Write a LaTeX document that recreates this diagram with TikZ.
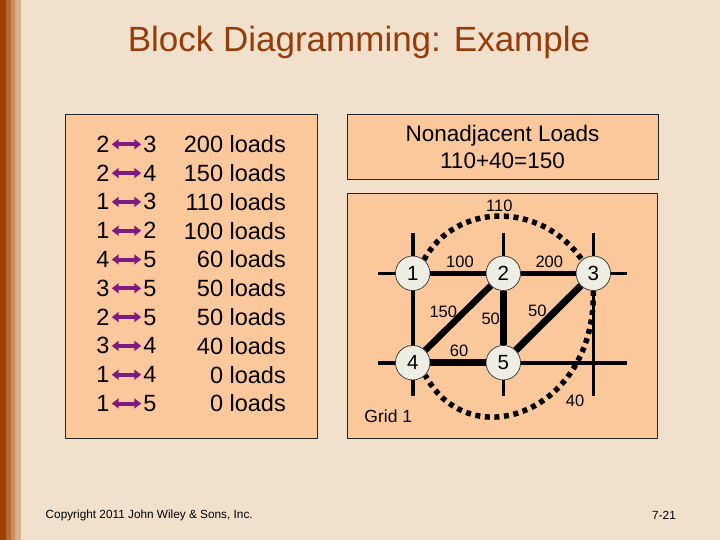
\documentclass[tikz,border=0pt]{standalone}
\usepackage{fontspec}
\setmainfont{Liberation Sans}
\usetikzlibrary{arrows.meta}
\definecolor{bg}{HTML}{F0E0CC}
\definecolor{peach}{HTML}{FAC89B}
\definecolor{titlebrown}{HTML}{963C0A}
\definecolor{stripeA}{HTML}{9E4108}
\definecolor{stripeB}{HTML}{B56A36}
\definecolor{stripeC}{HTML}{C98E62}
\definecolor{stripeD}{HTML}{D9AE8C}
\definecolor{arrowpurple}{HTML}{7F1A7F}
\definecolor{nodefill}{HTML}{EEEEE4}
\pgfdeclarelayer{background}
\pgfdeclarelayer{edges}
\pgfsetlayers{background,edges,main}
\begin{document}
\begin{tikzpicture}[x=1pt,y=-1pt,
  panel/.style={draw=black!85,line width=0.9pt,fill=peach},
  listtxt/.style={inner sep=0pt,font=\fontsize{23.5}{28}\selectfont},
  pairarrow/.style={arrowpurple,line width=4pt,{Triangle[length=7pt,width=10pt]}-{Triangle[length=7pt,width=10pt]},shorten <=2pt,shorten >=2pt},
  gridline/.style={line width=3.6pt,black},
  heavy/.style={line width=6.5pt,black},
  dotpath/.style={line width=5.5pt,black,dash pattern=on 5pt off 4.6pt},
  dept/.style={circle,draw=black!80,line width=0.7pt,fill=nodefill,minimum size=34.5pt,inner sep=0pt,font=\fontsize{20.5}{22}\selectfont},
  edgelbl/.style={inner sep=0pt,font=\fontsize{16.5}{18}\selectfont}]
% page
\begin{pgfonlayer}{background}
\fill[bg] (0,0) rectangle (720,540);
\fill[stripeA] (0,0) rectangle (6,540);
\fill[stripeB] (6,0) rectangle (11,540);
\fill[stripeC] (11,0) rectangle (15,540);
\fill[stripeD] (15,0) rectangle (21,540);
\draw[panel] (65,114) rectangle (317,438);
\draw[panel] (347,193) rectangle (657,438);
\end{pgfonlayer}
\useasboundingbox (0,0) rectangle (720,540);
% title
\node[titlebrown,inner sep=0pt,font=\fontsize{35}{40}\selectfont] (title) at (359,42) {Block Diagramming: Example};
% list
\foreach \a/\b/\l [count=\i from 0] in {2/3/200,2/4/150,1/3/110,1/2/100,4/5/60,3/5/50,2/5/50,3/4/40,1/4/0,1/5/0}{
  \node[listtxt] (L\i) at (103,{144.3+28.8*\i}) {\a};
  \node[listtxt] (R\i) at (150,{144.3+28.8*\i}) {\b};
  \node[listtxt,anchor=east] (D\i) at (286,{144.3+28.8*\i}) {\l\ loads};
  \draw[pairarrow] (L\i) -- (R\i);
}
% nonadjacent box
\node[panel,minimum width=311pt,minimum height=65pt,align=center,inner sep=0pt,
      font=\fontsize{22.5}{27}\selectfont] (nonadj) at (502.5,146.5) {Nonadjacent Loads\\110+40=150};
% grid nodes
\node[dept] (n1) at (412.7,273.3) {1};
\node[dept] (n2) at (503.3,273.3) {2};
\node[dept] (n3) at (593.3,273.3) {3};
\node[dept] (n4) at (412.7,362.7) {4};
\node[dept] (n5) at (503.3,362.7) {5};
\coordinate (v1t) at (412.7,232.7); \coordinate (v1b) at (412.7,396);
\coordinate (v2t) at (503.3,232.7); \coordinate (v2b) at (503.3,396);
\coordinate (v3t) at (593.3,232.7); \coordinate (v3b) at (593.3,396);
\coordinate (h1l) at (378.3,273.3); \coordinate (h1r) at (627.3,273.3);
\coordinate (h2l) at (378.3,362.7); \coordinate (h2r) at (627.3,362.7);
\begin{pgfonlayer}{edges}
\draw[gridline] (v1t) -- (v1b);
\draw[gridline] (v2t) -- (v2b);
\draw[gridline] (v3t) -- (v3b);
\draw[gridline] (h1l) -- (h1r);
\draw[gridline] (h2l) -- (h2r);
\draw[heavy,line width=5.5pt] (n1) -- (n2);
\draw[heavy,line width=5.5pt] (n2) -- (n3);
\draw[heavy] (n2) -- (n4);
\draw[heavy] (n2) -- (n5);
\draw[heavy,line width=7pt] (n3) -- (n5);
\draw[heavy] (n4) -- (n5);
\draw[dotpath] (n1.50) .. controls (455,203) and (540,200) .. (n3.130);
\draw[dotpath] (n3.south) .. controls (596,412) and (470,458) .. (n4.-45);
\end{pgfonlayer}
% edge labels
\node[edgelbl] (l110) at (499.3,206) {110};
\node[edgelbl] (l100) at (460,262) {100};
\node[edgelbl] (l200) at (549.3,262) {200};
\node[edgelbl] (l150) at (443.3,312) {150};
\node[edgelbl] (l50a) at (490.7,319) {50};
\node[edgelbl] (l50b) at (537.3,311) {50};
\node[edgelbl] (l60) at (459,351) {60};
\node[edgelbl] (l40) at (575,401) {40};
\node[inner sep=0pt,font=\fontsize{17.5}{20}\selectfont] (grid) at (388.3,416.5) {Grid 1};
% footer
\node[inner sep=0pt,anchor=west,font=\fontsize{11.8}{14}\selectfont] (copy) at (45.5,515) {Copyright 2011 John Wiley \& Sons, Inc.};
\node[inner sep=0pt,font=\fontsize{11.8}{14}\selectfont] (page) at (664,515) {7-21};
\end{tikzpicture}
\end{document}
